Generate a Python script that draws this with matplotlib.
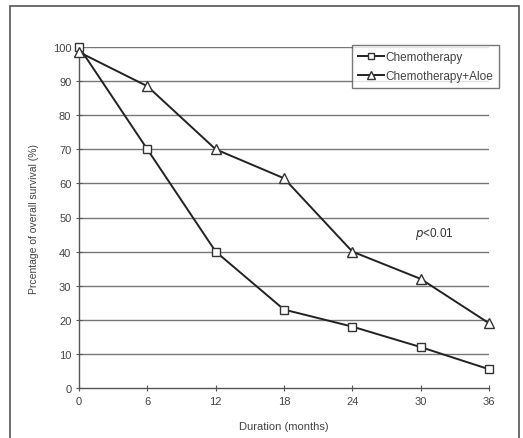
import matplotlib
matplotlib.use("Agg")
import matplotlib.pyplot as plt
from matplotlib.patches import Rectangle

months = [0, 6, 12, 18, 24, 30, 36]
chemo = [100, 70, 40, 23, 18, 12, 5.5]
chemo_aloe = [98.5, 88.5, 70, 61.5, 40, 32, 19]
yticks = list(range(0, 101, 10))

plt.rcParams['font.family'] = ['Liberation Sans', 'DejaVu Sans']

fig = plt.figure(figsize=(5.23, 4.39), dpi=100)
fig.patches.append(Rectangle((10/523, -0.1), 509/523, 1.1 - 7/439, transform=fig.transFigure,
                             fill=False, edgecolor='#555555', linewidth=1.2))

ax = fig.add_axes([79/523, 1 - 389/439, 410/523, 341/439])
for y in yticks[1:]:
    ax.axhline(y, color='#777777', linewidth=1.0, zorder=1)

ax.plot(months, chemo, color='#222222', linewidth=1.4, marker='s', markersize=5.5,
        markerfacecolor='white', markeredgecolor='#333333', clip_on=False, zorder=3,
        label='Chemotherapy')
ax.plot(months, chemo_aloe, color='#222222', linewidth=1.4, marker='^', markersize=6.5,
        markerfacecolor='white', markeredgecolor='#333333', clip_on=False, zorder=3,
        label='Chemotherapy+Aloe')

ax.set_xlim(0, 36)
ax.set_ylim(0, 100)
ax.set_xticks(months)
ax.set_yticks(yticks)
for s in ['top', 'right']:
    ax.spines[s].set_visible(False)
for s in ['left', 'bottom']:
    ax.spines[s].set_color('#555555')
    ax.spines[s].set_linewidth(1.0)
ax.tick_params(direction='inout', length=4, colors='#555555', labelsize=8,
               labelcolor='#444444')

ax.set_xlabel('Duration (months)', fontsize=8, color='#444444', labelpad=11)
ax.set_ylabel('Prcentage of overall survival (%)', fontsize=7.5, color='#444444', labelpad=10)

ax.text(32.9, 45.5, r'$p$<0.01', fontsize=8.5, color='#333333', ha='right', va='center')

leg = ax.legend(loc='upper right', bbox_to_anchor=(499/523, 1 - 46/439),
                bbox_transform=fig.transFigure, fontsize=8.5, frameon=True,
                fancybox=False, borderpad=0.5, handlelength=2.2, handletextpad=0.1,
                labelspacing=0.6, borderaxespad=0, markerscale=0.8)
leg.get_frame().set_edgecolor('#555555')
leg.get_frame().set_linewidth(1.0)
for t in leg.get_texts():
    t.set_color('#444444')

fig.savefig('out.png', dpi=100)
